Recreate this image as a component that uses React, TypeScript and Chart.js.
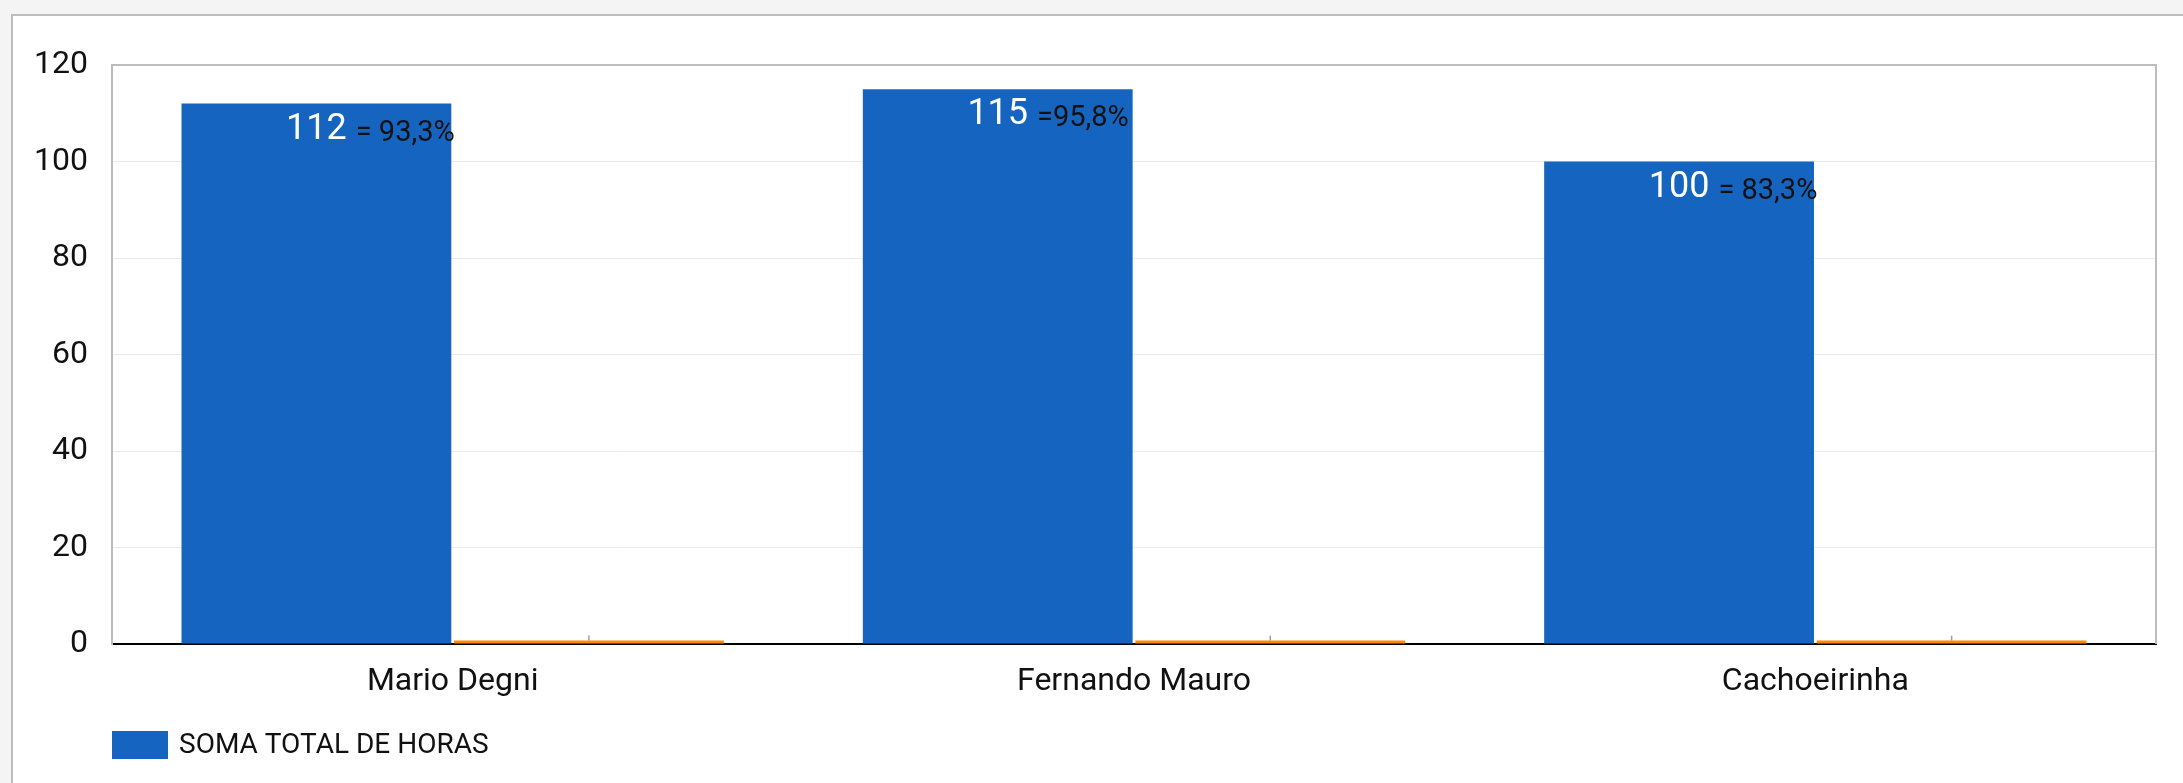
import React, { useEffect, useRef } from 'react';
import { Chart, registerables } from 'chart.js';

Chart.register(...registerables);

const categories = ['Mario Degni', 'Fernando Mauro', 'Cachoeirinha'];
const totalHours = [112, 115, 100];
const secondaryValues = [0.7, 0.7, 0.7];
const percentLabels = ['= 93,3%', '=95,8%', '= 83,3%'];
const seriesLabel = 'SOMA TOTAL DE HORAS';
const yTicksMin = 0;
const yTicksMax = 120;
const yGridStep = 10;
const yLabelStep = 20;

const BLUE = '#1565c0';
const ORANGE = '#ff8a00';
const FONT = 'Roboto, "Noto Sans", sans-serif';

const decorPlugin = {
  id: 'decor',
  beforeDatasetsDraw(chart: any) {
    const { ctx, chartArea } = chart;
    ctx.save();
    ctx.strokeStyle = '#bdbdbd';
    ctx.lineWidth = 2;
    ctx.beginPath();
    ctx.moveTo(chartArea.left, chartArea.top);
    ctx.lineTo(chartArea.right, chartArea.top);
    ctx.lineTo(chartArea.right, chartArea.bottom);
    ctx.stroke();
    ctx.restore();
  },
  afterDatasetsDraw(chart: any) {
    const { ctx } = chart;
    ctx.save();
    const meta1 = chart.getDatasetMeta(1);
    ctx.strokeStyle = '#9e9e9e';
    ctx.lineWidth = 1.5;
    meta1.data.forEach((bar: any) => {
      ctx.beginPath();
      ctx.moveTo(bar.x, bar.y);
      ctx.lineTo(bar.x, bar.y - 5);
      ctx.stroke();
    });
    const meta0 = chart.getDatasetMeta(0);
    meta0.data.forEach((bar: any, i: number) => {
      const txt = String(totalHours[i]);
      ctx.font = `36px ${FONT}`;
      ctx.fillStyle = '#ffffff';
      ctx.textAlign = 'center';
      ctx.textBaseline = 'alphabetic';
      ctx.fillText(txt, bar.x, bar.y + 35);
      const w = ctx.measureText(txt).width;
      ctx.font = `29px ${FONT}`;
      ctx.fillStyle = '#111111';
      ctx.textAlign = 'left';
      ctx.fillText(percentLabels[i], bar.x + w / 2 + 9, bar.y + 37);
    });
    ctx.restore();
  },
  afterDraw(chart: any) {
    const { ctx, chartArea } = chart;
    ctx.save();
    const x = chartArea.left;
    const y = chartArea.bottom + 87;
    ctx.fillStyle = BLUE;
    ctx.fillRect(x, y, 56, 28);
    ctx.font = `28px ${FONT}`;
    ctx.fillStyle = '#111111';
    ctx.textAlign = 'left';
    ctx.textBaseline = 'middle';
    ctx.fillText(seriesLabel, x + 67, y + 15);
    ctx.restore();
  },
};

export default function App() {
  const ref = useRef<HTMLCanvasElement>(null);
  useEffect(() => {
    if (!ref.current) return;
    const chart = new Chart(ref.current, {
      type: 'bar',
      data: {
        labels: categories,
        datasets: [
          {
            label: seriesLabel,
            data: totalHours,
            backgroundColor: BLUE,
            categoryPercentage: 0.8,
            barPercentage: 0.99,
          },
          {
            label: 'secundário',
            data: secondaryValues,
            backgroundColor: ORANGE,
            categoryPercentage: 0.8,
            barPercentage: 0.99,
          },
        ],
      },
      options: {
        responsive: false,
        animation: false,
        devicePixelRatio: 1,
        layout: { padding: { top: 65, right: 27, left: 0, bottom: 79 } },
        plugins: {
          legend: { display: false },
          tooltip: { enabled: false },
        },
        scales: {
          x: {
            grid: { display: false, drawTicks: false },
            border: { display: true, color: '#000000', width: 2 },
            ticks: {
              color: '#111111',
              font: { family: FONT, size: 32 },
              padding: 19,
            },
            afterFit: (scale: any) => {
              scale.height = 60;
            },
          },
          y: {
            min: yTicksMin,
            max: yTicksMax,
            grid: { color: '#ebebeb', lineWidth: 1, drawTicks: false },
            border: { display: true, color: '#bdbdbd', width: 2 },
            ticks: {
              stepSize: yGridStep,
              color: '#111111',
              font: { family: FONT, size: 32 },
              padding: 24,
              callback: (v: any) => (Number(v) % yLabelStep === 0 ? String(v) : null),
            },
            afterFit: (scale: any) => {
              scale.width = 112;
            },
          },
        },
      },
      plugins: [decorPlugin],
    });
    return () => chart.destroy();
  }, []);

  return (
    <div style={{ position: 'absolute', left: 0, top: 0, width: 2183, height: 783, background: '#f4f4f4', overflow: 'hidden' }}>
      <div
        style={{
          position: 'absolute',
          left: 11,
          top: 14,
          width: 2400,
          height: 900,
          background: '#ffffff',
          borderTop: '2px solid #bdbdbd',
          borderLeft: '2px solid #bdbdbd',
        }}
      />
      <canvas ref={ref} width={2183} height={783} style={{ position: 'absolute', left: 0, top: 0, width: 2183, height: 783 }} />
    </div>
  );
}
